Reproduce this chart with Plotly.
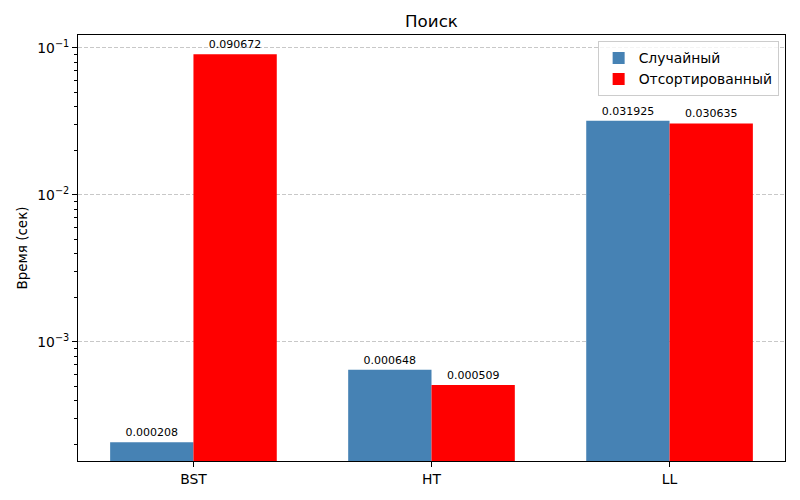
import math
import plotly.graph_objects as go

# Data
categories = ["BST", "HT", "LL"]
random_times = [0.000208, 0.000648, 0.031925]
sorted_times = [0.090672, 0.000509, 0.030635]

x = list(range(len(categories)))
width = 0.35

y_range = [math.log10(1.55e-4), math.log10(0.1224)]
major = [1e-3, 1e-2, 1e-1]
major_text = ["10<sup>−3</sup>", "10<sup>−2</sup>", "10<sup>−1</sup>"]
minor = [m * 10 ** e for e in (-4, -3, -2, -1) for m in range(2, 10)]
minor = [v for v in minor if 10 ** y_range[0] <= v <= 10 ** y_range[1]]

fig = go.Figure()
fig.add_trace(go.Bar(
    x=x, y=random_times, width=width, offset=-width,
    name="Случайный", marker=dict(color="steelblue", line=dict(width=0)),
    text=[f"{v:.6f}" for v in random_times], textposition="outside",
    textfont=dict(size=11, color="black"), cliponaxis=False,
))
fig.add_trace(go.Bar(
    x=x, y=sorted_times, width=width, offset=0,
    name="Отсортированный", marker=dict(color="red", line=dict(width=0)),
    text=[f"{v:.6f}" for v in sorted_times], textposition="outside",
    textfont=dict(size=11, color="black"), cliponaxis=False,
))

fig.update_layout(
    width=800, height=500,
    margin=dict(l=78, r=15, t=35, b=39),
    paper_bgcolor="white", plot_bgcolor="white",
    font=dict(family="DejaVu Sans", size=13.9, color="black"),
    title=dict(text="Поиск", xref="paper", x=0.5, xanchor="center",
               y=0.958, yanchor="middle", font=dict(size=16.7)),
    barmode="overlay",
    showlegend=True,
    legend=dict(x=0.991, y=0.985, xanchor="right", yanchor="top",
                bordercolor="#cccccc", borderwidth=1, bgcolor="rgba(255,255,255,0.8)",
                font=dict(size=13.9), tracegroupgap=0),
    xaxis=dict(
        range=[-0.485, 2.485], tickvals=x, ticktext=categories,
        ticks="outside", ticklen=5, tickcolor="black",
        showline=True, linecolor="black", linewidth=1, mirror=True,
        showgrid=False, zeroline=False,
    ),
    yaxis=dict(
        type="log", range=y_range, tickvals=major, ticktext=major_text,
        ticks="outside", ticklen=5, tickcolor="black",
        showline=True, linecolor="black", linewidth=1, mirror=True,
        showgrid=True, gridcolor="#c8c8c8", griddash="4px,2px", gridwidth=1,
        zeroline=False,
        minor=dict(tickvals=minor, ticks="outside", ticklen=3, tickcolor="black",
                   showgrid=False),
        title=dict(text="Время (сек)", standoff=6, font=dict(size=13.5)),
    ),
)

fig.write_html("out.html", config={"displayModeBar": False},
               post_script="document.body.style.margin='0';document.body.style.overflow='hidden';")
